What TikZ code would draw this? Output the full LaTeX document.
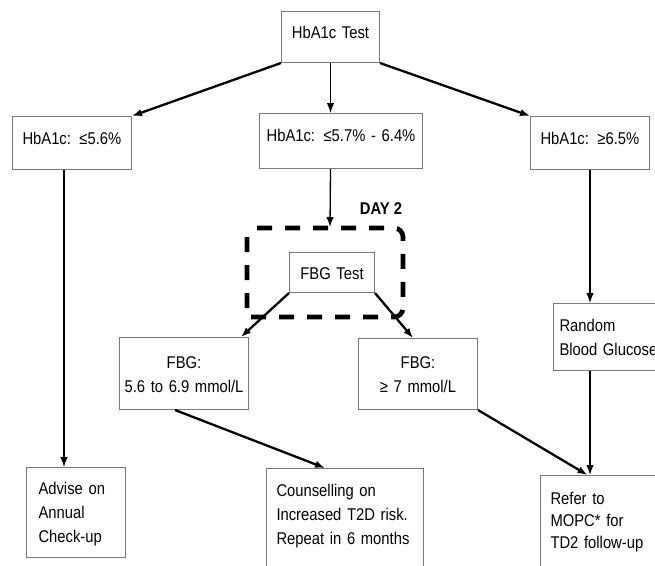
\documentclass[tikz,border=0pt]{standalone}
\usepackage{fontspec}
\setmainfont{Liberation Sans}[FakeStretch=0.87]
\usetikzlibrary{arrows.meta}
\definecolor{boxline}{RGB}{120,120,120}
\newcommand{\boxfont}[1]{\fontsize{17}{#1}\selectfont\spaceskip=3.2pt plus 1pt minus 1pt\relax}

\begin{document}
\begin{tikzpicture}[>={Latex[length=10pt,width=7.5pt]}, x=1pt, y=-1pt,
    box/.style={draw=boxline, line width=1pt, anchor=north west, inner ysep=0pt,
        font=\boxfont{24}},
    lbox/.style={box, align=left, inner xsep=10pt},
    cbox/.style={box, align=center, inner xsep=4pt},
    flow/.style={->, line width=1.3pt},
    heavy/.style={->, line width=2.3pt}]
    \clip (0,0) rectangle (655,565);

    % HbA1c test and its three results
    \node[cbox, text width=90pt, text height=27pt, text depth=24pt] (test) at (281,11) {HbA1c Test};
    \node[lbox, text width=99pt, text height=28pt, text depth=25pt] (low) at (12,116) {HbA1c: ≤5.6\%};
    \node[cbox, text width=155pt, text height=28pt, text depth=27pt] (mid) at (259,113) {HbA1c: ≤5.7\% - 6.4\%};
    \node[lbox, text width=99pt, text height=28pt, text depth=25pt] (high) at (530,116) {HbA1c: ≥6.5\%};

    % day 2 frame
    \node[font=\fontsize{17}{20}\selectfont\bfseries] (day) at (381,209) {DAY 2};
    \draw[line width=4.7pt, dash pattern=on 15pt off 13pt, dash phase=18pt]
        (247,228) -- (394,228) arc[start angle=-90, end angle=0, radius=9]
        -- (403,308) arc[start angle=0, end angle=90, radius=9]
        -- (247,317) -- cycle;
    \coordinate (frametop) at (330,227);

    % FBG test
    \node[cbox, text width=77pt, text height=27pt, text depth=13pt] (fbg) at (289,252) {FBG Test};
    \node[cbox, text width=121pt, text height=31pt, text depth=41pt] (mod) at (119,337) {FBG:\\5.6 to 6.9 mmol/L};
    \node[cbox, text width=111pt, text height=30pt, text depth=41pt] (diab) at (358,338) {FBG:\\≥ 7 mmol/L};
    \node[lbox, inner xsep=6pt, text width=110pt, text height=28pt, text depth=39pt] (rbg) at (553,303) {Random\\Blood Glucose};

    % outcomes
    \node[lbox, inner xsep=12pt, text width=75pt, text height=27pt, text depth=63pt] (advise) at (26,467) {Advise on\\Annual\\Check-up};
    \node[lbox, text width=137pt, text height=28pt, text depth=80pt] (couns) at (266,468) {Counselling on\\Increased T2D risk.\\Repeat in 6 months};
    \node[lbox, font=\boxfont{22}, text width=110pt, text height=29pt, text depth=80pt] (refer) at (540,475) {Refer to\\MOPC* for\\TD2 follow-up};

    % arrows
    \draw[heavy] (test.south west) -- (low.north east);
    \draw[flow] (test.south) -- (test.south |- mid.north);
    \draw[heavy] (test.south east) -- (high.north west);
    \draw[flow] ([xshift=-8pt]low.south) -- ([xshift=-8pt]low.south |- advise.north);
    \draw[flow] (mid.south -| test.south) -- (frametop);
    \draw[heavy] (fbg.south west) -- ([xshift=-8pt]mod.north east);
    \draw[heavy] (fbg.south east) -- ([xshift=-5pt]diab.north);
    \draw[flow] (high.south) -- (high.south |- rbg.north);
    \draw[flow] (high.south |- rbg.south) -- (high.south |- refer.north);
    \draw[heavy] ([xshift=-9pt]mod.south) -- ([xshift=-20pt]couns.north);
    \draw[heavy] (diab.south east) -- ([xshift=-18pt]refer.north);
\end{tikzpicture}
\end{document}
